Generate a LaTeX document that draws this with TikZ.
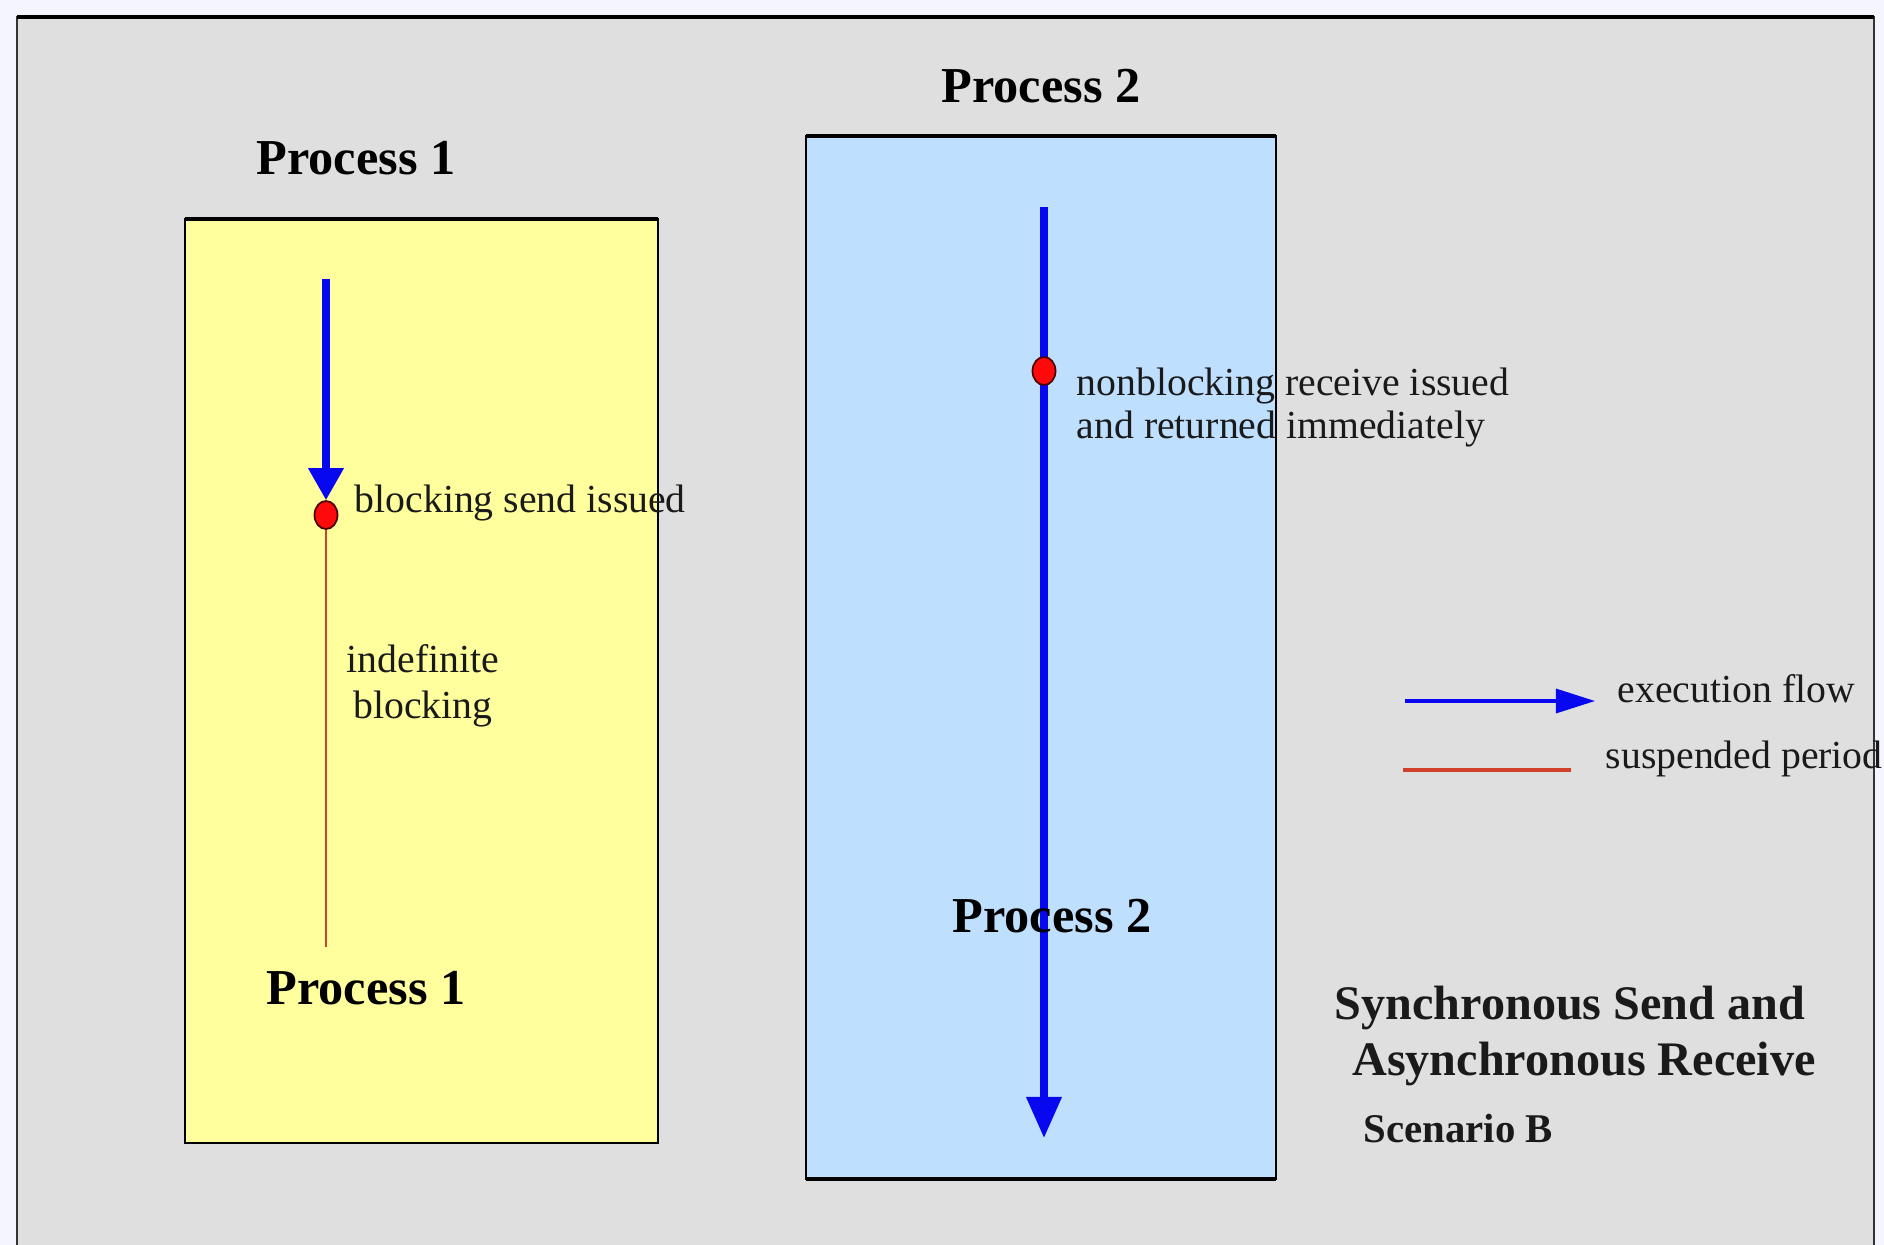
\documentclass[tikz,border=0pt]{standalone}
\usepackage{fontspec}
\setmainfont{Liberation Serif}
\usetikzlibrary{arrows.meta,shapes.geometric}
\definecolor{framegray}{HTML}{DFDFDF}
\definecolor{pyellow}{HTML}{FFFF9E}
\definecolor{pblue}{HTML}{BFDFFF}
\definecolor{flowblue}{HTML}{0808F0}
\definecolor{suspred}{HTML}{D0402A}
\definecolor{dotred}{HTML}{FF0A0A}
\definecolor{txt}{HTML}{1A1A1A}
\begin{document}
\begin{tikzpicture}[x=0.01cm,y=-0.01cm,
  ptitle/.style={font=\fontsize{14.3}{16}\selectfont\bfseries, text=black, inner sep=0pt, anchor=base},
  body/.style={font=\fontsize{11.3}{13}\selectfont, text=txt, inner sep=0pt},
  proc/.style={draw=black, line width=0.8pt},
  flow/.style={draw=flowblue, line width=2pt, -{Triangle[length=0.32cm,width=0.34cm]}},
  flowlong/.style={draw=flowblue, line width=2pt, -{Triangle[length=0.41cm,width=0.34cm]}},
  susp/.style={draw=suspred, line width=0.6pt},
  evdot/.style={ellipse, fill=dotred, draw=black!70!red, line width=0.5pt, minimum width=0.23cm, minimum height=0.28cm, inner sep=0pt}
]
\useasboundingbox (0,0) rectangle (1884,1245);
\fill[white!96!blue] (0,0) rectangle (1884,1245);
% frame
\begin{scope}
\clip (0,0) rectangle (1884,1245);
\fill[framegray] (17,17) rectangle (1874,1260);
\draw[black!80, line width=0.6pt] (17,1260) -- (17,17) -- (1874,17) -- (1874,1260);
\draw[black, line width=1.4pt] (17,17) -- (1874,17);
\end{scope}

% process boxes
\path[proc, fill=pyellow] (185,219) rectangle (658,1143);
\path[proc, fill=pblue] (806,136) rectangle (1276,1179);
\draw[black, line width=1.1pt] (185,219) -- (658,219);
\draw[black, line width=1.1pt] (806,136) -- (1276,136);
\draw[black, line width=1.1pt] (806,1179) -- (1276,1179);

% titles
\node[ptitle] (t1) at (356,174) {Process 1};
\node[ptitle] (t2) at (1041,102) {Process 2};

% process 1 flow
\coordinate (p1top) at (326,279);
\coordinate (p1end) at (326,947);
\node[evdot] (dot1) at (326,515) {};
\draw[flow] (p1top) -- (dot1.north);
\draw[susp] (dot1.south) -- (p1end);
\node[body, anchor=base west] (bsend) at (354,512) {blocking send issued};
\node[body, anchor=base] (indef) at (423,672) {indefinite};
\node[body, anchor=base] (blk) at (423,718) {blocking};
\node[ptitle] (b1) at (366,1004) {Process 1};

% process 2 flow
\coordinate (p2top) at (1044,207);
\coordinate (p2end) at (1044,1138);
\draw[flowlong] (p2top) -- (p2end);
\node[evdot] (dot2) at (1044,371) {};
\node[body, anchor=base west] (nb1) at (1076,395) {nonblocking receive issued};
\node[body, anchor=base west] (nb2) at (1076,438) {and returned immediately};
\node[ptitle] (b2) at (1052,932) {Process 2};

% legend
\coordinate (l1a) at (1405,701);
\coordinate (l1b) at (1595,701);
\draw[draw=flowblue, line width=0.9pt, -{Triangle[length=0.39cm,width=0.24cm]}] (l1a) -- (l1b);
\node[body, anchor=base west] (lflow) at (1617,702) {execution flow};
\coordinate (l2a) at (1403,770);
\coordinate (l2b) at (1571,770);
\draw[draw=suspred, line width=0.9pt] (l2a) -- (l2b);
\node[body, anchor=base west] (lsusp) at (1605,768) {suspended period};

% caption
\node[font=\fontsize{13.7}{16}\selectfont\bfseries, text=txt, inner sep=0pt, anchor=base] (cap1) at (1570,1019) {Synchronous Send and};
\node[font=\fontsize{13.7}{16}\selectfont\bfseries, text=txt, inner sep=0pt, anchor=base] (cap2) at (1584,1075) {Asynchronous Receive};
\node[font=\fontsize{11.6}{14}\selectfont\bfseries, text=txt, inner sep=0pt, anchor=base west] (scen) at (1363,1142) {Scenario B};
\end{tikzpicture}
\end{document}
